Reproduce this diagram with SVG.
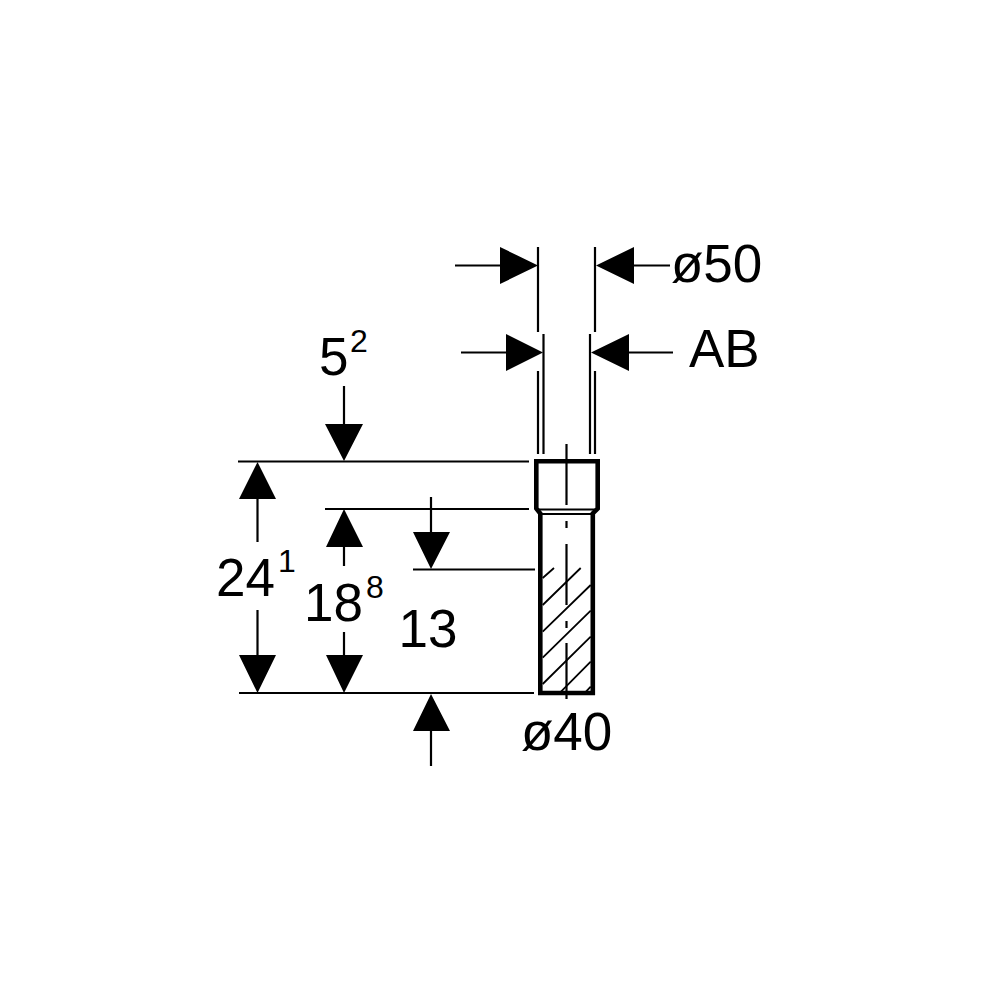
<svg xmlns="http://www.w3.org/2000/svg" width="1000" height="1000" viewBox="0 0 1000 1000">
<style>
.t{font-family:"Liberation Sans",Arial,sans-serif;font-size:53px;fill:#000}
.s{font-family:"Liberation Sans",Arial,sans-serif;font-size:32px;fill:#000}
.l{stroke:#000;stroke-width:2.200;fill:none}
.h{stroke:#000;stroke-width:1.800;fill:none}
.o{stroke:#000;stroke-width:4.600;fill:none}
.a{fill:#000}
</style>
<rect width="1000" height="1000" fill="#fff"/>
<g id="part">
<path class="o" d="M536.300 461.300H597.700V508.500L592.800 513.500V693H540.300V513.500L536.300 508.500Z"/>
<path class="l" d="M538 509.500H596"/>
<path class="l" d="M540 514H593"/>
<path class="h" d="M542.700 578L554 568M542.700 605L580.700 568M542.700 631.700L590.700 585M542.700 657.700L590.700 610.700M542.700 684L590.700 636.700M561 691.700L590.700 661.700M586 691.700L590.700 686.700"/>
<path class="l" d="M566.500 444V505M566.500 521V528M566.500 544V605M566.500 621V628M566.500 643V699"/>
</g>
<g id="connectors">
<path class="l" d="M538 247V332M595 247V332M543.500 334V454M590 334V454M538 371V454M595 371V454"/>
<path class="l" d="M455 265.500H500M634 265.500H670M461 352.500H506M629 352.500H673"/>
<path class="l" d="M238 461.500H529M325 509H529M413 569.500H535M239 693H534"/>
<path class="l" d="M344 386V424M257.500 499V542M257.500 610V655M344 547V566M344 632V655M431 497V532M431 731V766"/>
<path class="a" d="M500 247L538 265.500L500 284ZM634 247L596 265.500L634 284ZM506 334L543 352.500L506 371ZM629 334L591 352.500L629 371Z"/>
<path class="a" d="M325 424H363L344 461ZM239 499L257.500 462L276 499ZM326 547L344 509L363 547ZM413 532H450L431 569ZM239 655H276L257.500 693ZM326 655H363L344 693ZM413 731L431 694L450 731Z"/>
</g>
<g id="labels">
<text class="t" x="671" y="281.500">ø50</text>
<text class="t" x="689" y="367">AB</text>
<text class="t" x="319" y="375">5</text><text class="s" x="350" y="352">2</text>
<text class="t" x="216" y="596">24</text><text class="s" x="278" y="572">1</text>
<text class="t" x="304" y="621">18</text><text class="s" x="366" y="598">8</text>
<text class="t" x="398.500" y="647">13</text>
<text class="t" x="521" y="750">ø40</text>
</g>
</svg>
